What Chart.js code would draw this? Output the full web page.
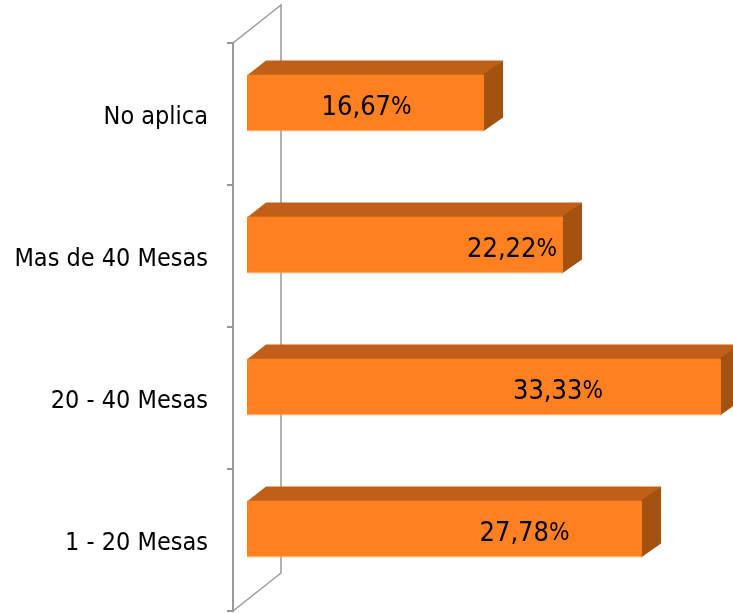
<!DOCTYPE html>
<html><head><meta charset="utf-8">
<style>html,body{margin:0;padding:0;background:#fff}#w{width:733px;height:613px;position:relative}</style>
<script src="https://cdn.jsdelivr.net/npm/chart.js@4"></script></head>
<body><div id="w"><canvas id="c" width="733" height="613"></canvas></div>
<script>
const categories = ["No aplica", "Mas de 40 Mesas", "20 - 40 Mesas", "1 - 20 Mesas"];
const seriesValues = [16.67, 22.22, 33.33, 27.78];
const tickValues = ["16,67", "22,22", "33,33", "27,78"];

const FONT = '"DejaVu Sans Condensed","DejaVu Sans"';
const AXIS = '#999999';
const shift = {x:14, y:-11};
const depth = {x:19, y:-14};
const labelDx = [1, 107, 74, 80];

const threeD = {
  id:'threeD',
  beforeDatasetsDraw(chart){
    const {ctx, chartArea:a} = chart;
    const bx=48, by=-38;
    ctx.save();
    ctx.strokeStyle=AXIS; ctx.lineWidth=1.5;
    ctx.beginPath();
    ctx.moveTo(a.left,a.top); ctx.lineTo(a.left+bx,a.top+by); ctx.lineTo(a.left+bx,a.bottom+by); ctx.lineTo(a.left,a.bottom);
    ctx.stroke();
    ctx.restore();
  },
  beforeDatasetDraw(chart){
    const {ctx} = chart;
    const els = chart.getDatasetMeta(0).data;
    ctx.save();
    ctx.translate(shift.x, shift.y);
    els.forEach(e=>{
      const {x,y,base,height}=e.getProps(['x','y','base','height'],true);
      const t=y-height/2,b=y+height/2;
      ctx.fillStyle='#c06018';
      ctx.beginPath();ctx.moveTo(base,t+1);ctx.lineTo(base+depth.x,t+depth.y);ctx.lineTo(x+depth.x,t+depth.y);ctx.lineTo(x,t+1);ctx.closePath();ctx.fill();
      ctx.fillStyle='#a35210';
      ctx.beginPath();ctx.moveTo(x-1,t);ctx.lineTo(x+depth.x,t+depth.y);ctx.lineTo(x+depth.x,b+depth.y);ctx.lineTo(x-1,b);ctx.closePath();ctx.fill();
    });
  },
  afterDatasetDraw(chart){
    const {ctx} = chart;
    const els = chart.getDatasetMeta(0).data;
    ctx.fillStyle='#000';
    ctx.textBaseline='middle';
    els.forEach((e,i)=>{
      const {x,y,base}=e.getProps(['x','y','base'],true);
      const cx=(x+base)/2+labelDx[i], cy=y+5;
      const num=tickValues[i];
      ctx.font='27px '+FONT; const w1=ctx.measureText(num).width;
      ctx.font='24px '+FONT; const w2=ctx.measureText('%').width;
      const l=cx-(w1+w2)/2;
      ctx.textAlign='left';
      ctx.font='27px '+FONT; ctx.fillText(num,l,cy);
      ctx.font='24px '+FONT; ctx.fillText('%',l+w1,cy);
    });
    ctx.restore();
  }
};

new Chart(document.getElementById('c'),{
  type:'bar',
  data:{labels:categories,datasets:[{data:seriesValues,backgroundColor:'#ff8020',borderColor:'#ffb27a',borderWidth:{top:0,right:0,bottom:1,left:0},borderSkipped:false,barPercentage:1,categoryPercentage:0.4,clip:false}]},
  plugins:[threeD],
  options:{
    indexAxis:'y',responsive:false,maintainAspectRatio:false,animation:false,devicePixelRatio:1,
    layout:{padding:{top:43,bottom:2,left:0,right:0}},
    plugins:{legend:{display:false},tooltip:{enabled:false},title:{display:false}},
    scales:{
      x:{min:0,max:35.16,display:false},
      y:{
        offset:true,
        afterFit(s){s.width=233;s.paddingTop=0;s.paddingBottom=0;},
        border:{color:AXIS,width:2},
        grid:{drawOnChartArea:false,drawTicks:true,tickLength:6,color:AXIS,lineWidth:2,offset:true},
        ticks:{color:'#000',padding:19,labelOffset:3,font:{family:FONT,size:25}}
      }
    }
  }
});
</script></body></html>
